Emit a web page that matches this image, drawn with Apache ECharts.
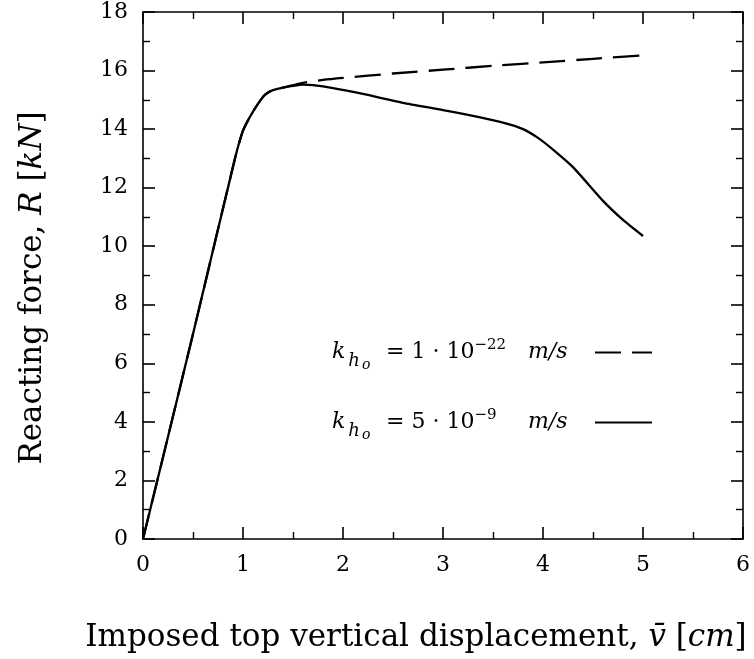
<!DOCTYPE html>
<html>
<head>
<meta charset="utf-8">
<script src="https://cdn.jsdelivr.net/npm/echarts@6/dist/echarts.min.js"></script>
<style>html,body{margin:0;padding:0;background:#fff;}#c{width:754px;height:659px;}</style>
</head>
<body>
<div id="c"></div>
<script>
// Data
const solidX = [0, 0.5, 0.92, 1.0, 1.1, 1.2, 1.25, 1.3, 1.4, 1.5, 1.6, 1.7, 1.9, 2.2, 2.6, 3.0, 3.3, 3.6, 3.8, 3.95, 4.1, 4.3, 4.6, 4.8, 5.0];
const solidY = [0, 7.0, 13.0, 13.95, 14.6, 15.1, 15.25, 15.33, 15.42, 15.48, 15.52, 15.5, 15.4, 15.2, 14.9, 14.65, 14.45, 14.22, 14.0, 13.7, 13.3, 12.7, 11.55, 10.9, 10.35];
const dashX = [0, 0.5, 0.92, 1.0, 1.1, 1.2, 1.25, 1.3, 1.4, 1.5, 1.6, 1.8, 2.0, 2.5, 3.0, 3.5, 4.0, 4.5, 5.0];
const dashY = [0, 7.0, 13.0, 13.95, 14.6, 15.1, 15.25, 15.33, 15.42, 15.5, 15.58, 15.68, 15.75, 15.9, 16.03, 16.16, 16.28, 16.4, 16.52];
const xTicks = [0, 1, 2, 3, 4, 5, 6];
const yTicks = [0, 2, 4, 6, 8, 10, 12, 14, 16, 18];
const seriesNames = ['k1', 'k2'];
const legendExp = { k1: '−22', k2: '−9' };
const legendMant = { k1: '1', k2: '5' };

const SERIF = '"DejaVu Serif", serif';

function pair(xs, ys) { return xs.map((x, i) => [x, ys[i]]); }

// text measurement for legend spacing
const mctx = document.createElement('canvas').getContext('2d');
function tw(text, size, italic) {
  mctx.font = (italic ? 'italic ' : '') + size + 'px ' + SERIF;
  return mctx.measureText(text).width;
}

const axisCommon = {
  axisLine: { onZero: false, lineStyle: { color: '#000', width: 1.6 } },
  axisTick: { inside: true, length: 12, lineStyle: { color: '#000', width: 1.6 } },
  minorTick: { show: true, splitNumber: 2, length: 7, lineStyle: { color: '#000', width: 1.4 } },
  splitLine: { show: false },
  minorSplitLine: { show: false }
};

const legendRich = {
  k: { fontFamily: SERIF, fontStyle: 'italic', fontSize: 22, color: '#000', height: 30 },
  sub: { fontFamily: SERIF, fontStyle: 'italic', fontSize: 18, color: '#000', height: 12, verticalAlign: 'bottom' },
  subsub: { fontFamily: SERIF, fontStyle: 'italic', fontSize: 14, color: '#000', height: 5, verticalAlign: 'bottom' },
  eq: { fontFamily: SERIF, fontSize: 22, color: '#000', height: 30 },
  sup: { fontFamily: SERIF, fontSize: 15, color: '#000', height: 16, verticalAlign: 'top' },
  u: { fontFamily: SERIF, fontStyle: 'italic', fontSize: 22, color: '#000', height: 30 },
  g1: { width: 3, height: 30, fontSize: 22 },
  g2: { width: 2, height: 30, fontSize: 22 }
};
const LEG_LEFT = 332, EQ_AT = 386, UNIT_AT = 528, TEXT_END = 590;
function legendLabel(n) {
  const eqText = '= ' + legendMant[n] + ' · 10';
  const w1 = tw('k', 22, true) + tw('h', 18, true) + tw('o', 14, true) + 5;
  const s1 = Math.max(1, EQ_AT - LEG_LEFT - w1);
  const w2 = tw(eqText, 22, false) + tw(legendExp[n], 15, false);
  const s2 = Math.max(1, UNIT_AT - EQ_AT - w2);
  const s3 = Math.max(1, TEXT_END - UNIT_AT - tw('m/s', 22, true));
  legendRich['sa' + n] = { width: s1, height: 30, fontSize: 22 };
  legendRich['sb' + n] = { width: s2, height: 30, fontSize: 22 };
  legendRich['sc' + n] = { width: s3, height: 30, fontSize: 22 };
  return '{k|k}{g1| }{sub|h}{g2| }{subsub|o}{sa' + n + '| }{eq|' + eqText + '}{sup|' + legendExp[n] + '}{sb' + n + '| }{u|m/s}{sc' + n + '| }';
}
const legendLabels = {};
seriesNames.forEach(n => { legendLabels[n] = legendLabel(n); });

const chart = echarts.init(document.getElementById('c'), null, { renderer: 'canvas' });
chart.setOption({
  backgroundColor: '#fff',
  animation: false,
  grid: { left: 143, right: 11, top: 12, bottom: 120, containLabel: false },
  xAxis: [
    Object.assign({}, axisCommon, {
      type: 'value', min: xTicks[0], max: xTicks[xTicks.length - 1], interval: 1, position: 'bottom',
      axisLabel: { fontFamily: SERIF, fontSize: 22, color: '#000', margin: 15 }
    }),
    Object.assign({}, axisCommon, {
      type: 'value', min: xTicks[0], max: xTicks[xTicks.length - 1], interval: 1, position: 'top',
      axisLabel: { show: false }
    })
  ],
  yAxis: [
    Object.assign({}, axisCommon, {
      type: 'value', min: yTicks[0], max: yTicks[yTicks.length - 1], interval: 2, position: 'left',
      axisLabel: { fontFamily: SERIF, fontSize: 22, color: '#000', margin: 15 }
    }),
    Object.assign({}, axisCommon, {
      type: 'value', min: yTicks[0], max: yTicks[yTicks.length - 1], interval: 2, position: 'right',
      axisLabel: { show: false }
    })
  ],
  legend: {
    orient: 'vertical', left: LEG_LEFT, top: 338, align: 'right', itemGap: 36, padding: 0,
    itemWidth: 57, itemHeight: 14,
    itemStyle: { opacity: 0 },
    data: seriesNames,
    formatter: n => legendLabels[n],
    textStyle: { rich: legendRich, fontFamily: SERIF, fontSize: 22, color: '#000' }
  },
  series: [
    {
      name: seriesNames[0], type: 'line', data: pair(dashX, dashY), showSymbol: false, symbol: 'none', smooth: 0.2,
      lineStyle: { color: '#000', width: 2.3, type: [26, 11] }, itemStyle: { color: '#000' }, z: 3
    },
    {
      name: seriesNames[1], type: 'line', data: pair(solidX, solidY), showSymbol: false, symbol: 'none', smooth: 0.2,
      lineStyle: { color: '#000', width: 2.3, type: 'solid' }, itemStyle: { color: '#000' }, z: 2
    }
  ],
  graphic: [
    {
      type: 'text', x: 416, y: 638,
      style: {
        text: '{r|Imposed top vertical displacement, }{i|v̄}{r| [}{i|cm}{r|]}',
        align: 'center', verticalAlign: 'middle',
        rich: {
          r: { fontFamily: SERIF, fontSize: 31, fill: '#000' },
          i: { fontFamily: SERIF, fontStyle: 'italic', fontSize: 31, fill: '#000' }
        }
      }
    },
    {
      type: 'text', x: 33, y: 288, rotation: Math.PI / 2,
      style: {
        text: '{r|Reacting force, }{i|R}{r| [}{i|kN}{r|]}',
        align: 'center', verticalAlign: 'middle',
        rich: {
          r: { fontFamily: SERIF, fontSize: 31, fill: '#000' },
          i: { fontFamily: SERIF, fontStyle: 'italic', fontSize: 31, fill: '#000' }
        }
      }
    }
  ]
});
</script>
</body>
</html>
